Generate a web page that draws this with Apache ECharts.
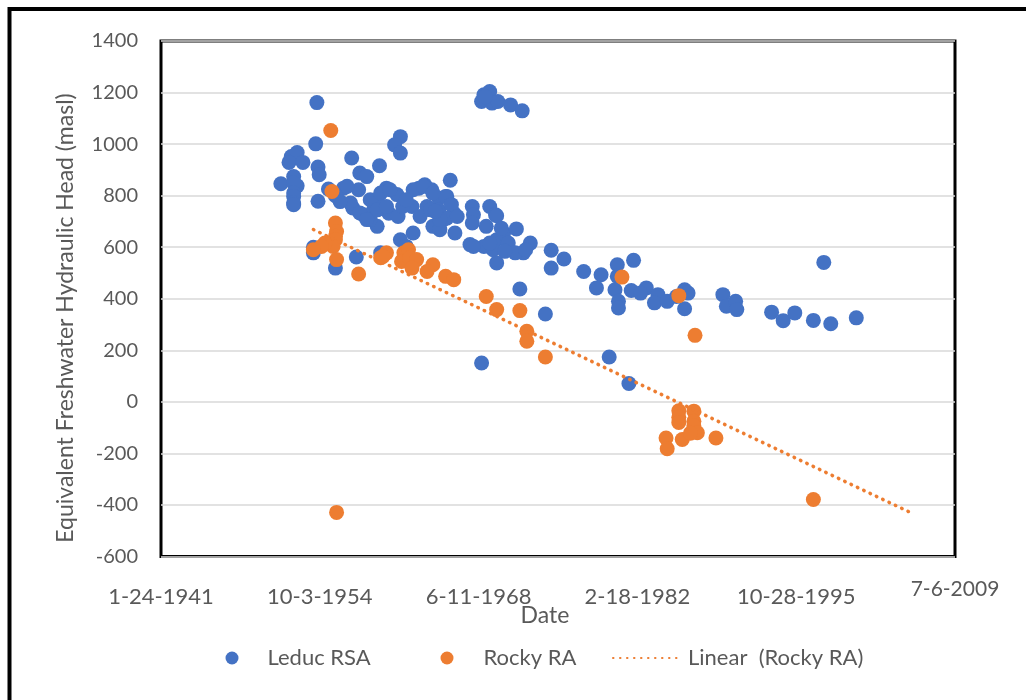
<!DOCTYPE html>
<html><head><meta charset="utf-8">
<script src="https://cdn.jsdelivr.net/npm/echarts@6/dist/echarts.min.js"></script>
<style>html,body{margin:0;padding:0;background:#fff}#c{width:1026px;height:700px}</style>
</head><body><div id="c"></div>
<script>
// ---- data (dates as decimal years, heads in masl) ----
const leducYears = [1951.4,1952.3,1952.8,1952.1,1953.3,1952.5,1952.8,1952.5,1952.5,1952.5,1952.5,1952.5,1954.5,1954.4,1954.6,1954.7,1954.6,1955.5,1954.2,1954.2,1956.1,1957.5,1957.9,1959.9,1958.2,1958.8,1956.8,1958.1,1957.6,1958.5,1959.7,1959.7,1960.5,1961.4,1959.4,1960.7,1961.5,1962.7,1963.3,1963.8,1964.4,1965.0,1965.7,1964.0,1965.0,1965.4,1966.3,1964.5,1965.1,1966.4,1967.9,1968.0,1969.4,1969.9,1967.7,1968.9,1970.0,1970.6,1970.0,1961.7,1962.8,1960.0,1966.0,1965.6,1966.1,1965.7,1966.6,1970.0,1967.9,1969.1,1970.4,1971.7,1968.0,1969.7,1971.0,1972.3,1972.9,1971.6,1970.7,1969.4,1972.5,1974.7,1974.7,1975.8,1977.5,1972.0,1974.2,1968.7,1968.9,1969.4,1968.7,1969.6,1970.1,1971.2,1972.2,1969.0,1961.7,1961.2,1961.7,1957.1,1957.4,1958.2,1959.1,1959.1,1960.0,1960.8,1959.7,1960.5,1961.9,1962.8,1963.7,1964.5,1963.4,1964.3,1965.1,1958.8,1956.1,1956.5,1962.2,1962.2,1964.7,1979.0,1978.6,1980.4,1981.8,1980.4,1980.2,1980.5,1980.5,1981.6,1982.9,1982.4,1983.9,1983.6,1984.7,1985.5,1986.2,1986.5,1986.2,1989.5,1989.8,1990.6,1990.7,1993.7,1994.7,1995.7,1997.3,1998.8,2001.0,1998.2,1979.7,1981.4];
const leducHeads = [846,952,967,929,929,874,838,849,810,797,771,765,1161,1001,911,881,778,826,578,600,519,946,562,916,888,874,829,823,752,726,681,784,829,804,745,732,719,758,829,842,823,791,797,758,745,707,732,681,668,655,758,726,758,726,610,603,629,655,539,629,655,578,860,797,765,713,719,722,694,681,674,671,603,590,616,578,616,578,584,616,590,588,519,554,506,438,341,151,1191,1204,1165,1159,1165,1152,1129,1184,1029,997,965,836,771,733,707,784,810,823,745,758,758,823,836,810,719,745,707,707,800,777,603,784,739,493,442,532,549,487,435,390,364,432,442,422,416,384,390,409,435,422,361,416,371,390,358,348,315,345,316,303,326,541,174,71];
const rockyYears = [1955.7,1955.8,1956.1,1956.2,1956.1,1956.1,1955.9,1955.2,1954.9,1954.2,1956.2,1958.1,1960.0,1960.5,1962.0,1962.4,1961.8,1962.5,1963.1,1962.7,1964.5,1964.0,1965.6,1966.3,1969.1,1970.0,1972.0,1972.6,1972.6,1974.2,1956.2,1980.8,1985.7,1987.1,1985.7,1985.7,1985.7,1987.0,1987.0,1987.0,1987.3,1986.0,1984.6,1984.7,1988.9,1986.7,1997.3,1960.2];
const rockyHeads = [1053,816,694,661,642,629,603,616,603,590,552,496,559,578,578,590,545,558,552,519,532,506,487,474,409,358,354,274,235,174,-429,484,412,258,-35,-60,-80,-36,-75,-94,-120,-146,-140,-182,-140,-122,-379,564];
const seriesNames = ['Leduc RSA', 'Rocky RA', 'Linear  (Rocky RA)'];
const xTickLabels = ['1-24-1941','10-3-1954','6-11-1968','2-18-1982','10-28-1995','7-6-2009'];
const xTickSerials = [15000, 20000, 25000, 30000, 35000, 40000];
const yTickValues = [-600,-400,-200,0,200,400,600,800,1000,1200,1400];
const xTitle = 'Date';
const yTitle = 'Equivalent Freshwater Hydraulic Head (masl)';
const trendForwardDays = 3000;

// ---- helpers ----
const EXCEL_EPOCH = Date.UTC(1899, 11, 30);
function yearToSerial(y) {
  const yr = Math.floor(y);
  const start = Date.UTC(yr, 0, 1), end = Date.UTC(yr + 1, 0, 1);
  const t = start + (y - yr) * (end - start);
  return (t - EXCEL_EPOCH) / 86400000;
}
const leduc = leducYears.map((y, i) => [yearToSerial(y), leducHeads[i]]);
const rocky = rockyYears.map((y, i) => [yearToSerial(y), rockyHeads[i]]);

// least-squares linear trend of Rocky RA
const n = rocky.length;
const mx = rocky.reduce((s, p) => s + p[0], 0) / n;
const my = rocky.reduce((s, p) => s + p[1], 0) / n;
let sxy = 0, sxx = 0;
rocky.forEach(p => { sxy += (p[0] - mx) * (p[1] - my); sxx += (p[0] - mx) ** 2; });
const slope = sxy / sxx, icpt = my - slope * mx;
const xStart = Math.min(...rocky.map(p => p[0]));
const xEnd = Math.max(...rocky.map(p => p[0])) + trendForwardDays;
const trend = [[xStart, icpt + slope * xStart], [xEnd, icpt + slope * xEnd]];

const FONT = 'Lato';
const TXT = '#595959';
const BLUE = '#4472C4', ORANGE = '#ED7D31';

const chart = echarts.init(document.getElementById('c'), null, {renderer: 'canvas'});
chart.setOption({
  animation: false,
  backgroundColor: '#fff',
  textStyle: {fontFamily: FONT},
  grid: {left: 161, right: 71, top: 41, bottom: 143.5, show: true, borderColor: '#000', borderWidth: 3, containLabel: false},
  xAxis: {
    type: 'value', min: xTickSerials[0], max: xTickSerials[xTickSerials.length - 1], interval: xTickSerials[1] - xTickSerials[0],
    axisLine: {show: false}, axisTick: {show: false}, splitLine: {show: false},
    axisLabel: {
      showMinLabel: true, showMaxLabel: true, margin: 20,
      formatter: v => {
        const i = xTickSerials.indexOf(Math.round(v));
        if (i < 0) return '';
        return i === xTickLabels.length - 1 ? '{s|' + xTickLabels[i] + '}' : '{n|' + xTickLabels[i] + '}';
      },
      rich: {
        n: {fontFamily: FONT, fontSize: 22, color: TXT, padding: [9, 0, 0, 0]},
        s: {fontFamily: FONT, fontSize: 21, color: TXT, padding: [2, 0, 0, 0]}
      }
    }
  },
  yAxis: {
    type: 'value', min: yTickValues[0], max: yTickValues[yTickValues.length - 1], interval: yTickValues[1] - yTickValues[0],
    axisLine: {show: false}, axisTick: {show: false},
    splitLine: {show: true, lineStyle: {color: '#d9d9d9', width: 1.5}},
    axisLabel: {fontFamily: FONT, fontSize: 20, color: TXT, margin: 23, formatter: v => String(v)}
  },
  legend: [
    {data: [seriesNames[0]], left: 220.5, top: 642, itemWidth: 13, itemHeight: 13,
     textStyle: {fontFamily: FONT, fontSize: 22, color: TXT, padding: [0, 0, 0, 24]}},
    {data: [seriesNames[1]], left: 435.5, top: 642, itemWidth: 13, itemHeight: 13,
     textStyle: {fontFamily: FONT, fontSize: 22, color: TXT, padding: [0, 0, 0, 25]}},
    {data: [seriesNames[2]], left: 607, top: 642, itemWidth: 65, itemHeight: 13,
     itemStyle: {color: 'rgba(0,0,0,0)', borderColor: 'rgba(0,0,0,0)', borderWidth: 0},
     textStyle: {fontFamily: FONT, fontSize: 22, color: TXT, padding: [0, 0, 0, 5]}}
  ],
  graphic: [
    {type: 'rect', shape: {x: 9.5, y: 9, width: 1200, height: 900}, style: {fill: 'none', stroke: '#000', lineWidth: 4}, silent: true},
    {type: 'text', x: 66, y: 318, rotation: Math.PI / 2, silent: true,
     style: {text: yTitle, fill: TXT, font: '23px Lato', align: 'center', verticalAlign: 'middle'}},
    {type: 'text', x: 545, y: 616, silent: true,
     style: {text: xTitle, fill: TXT, font: '23px Lato', align: 'center', verticalAlign: 'middle'}}
  ],
  series: [
    {name: seriesNames[0], type: 'scatter', data: leduc, symbol: 'circle', symbolSize: 15, itemStyle: {color: BLUE, opacity: 1}},
    {name: seriesNames[1], type: 'scatter', data: rocky, symbol: 'circle', symbolSize: 15, itemStyle: {color: ORANGE, opacity: 1}},
    {name: seriesNames[2], type: 'line', data: trend, symbol: 'none', showSymbol: false, z: 5,
     itemStyle: {color: ORANGE},
     lineStyle: {color: ORANGE, width: 3.5, type: [0.5, 6.5], cap: 'round'}}
  ]
});
</script>
</body></html>
